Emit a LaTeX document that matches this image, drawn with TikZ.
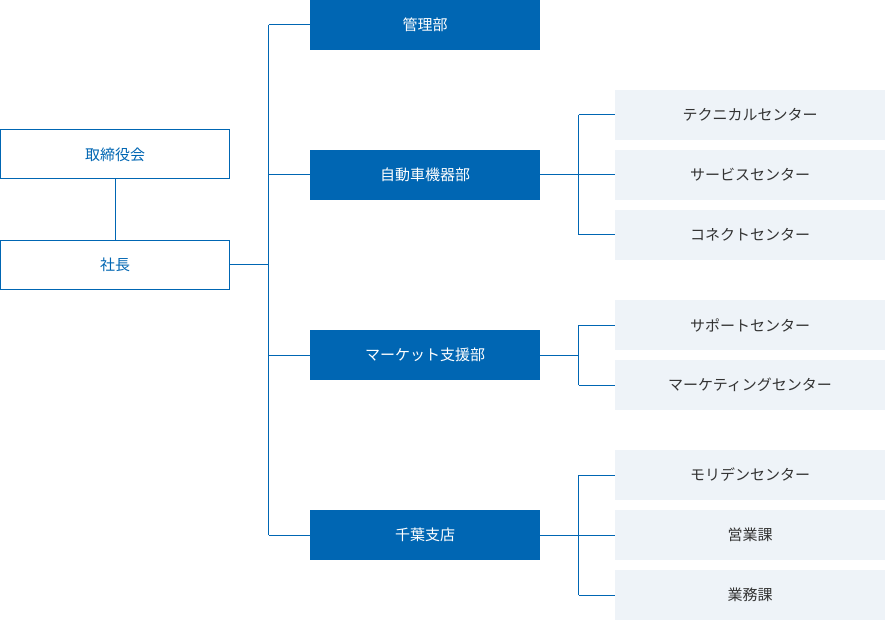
\documentclass[tikz,border=0pt]{standalone}
\usepackage{fontspec}
\setmainfont{Noto Sans CJK JP}
\definecolor{cblue}{HTML}{0066B3}
\definecolor{clight}{HTML}{EEF3F8}
\definecolor{ctext}{HTML}{333333}
\begin{document}
\begin{tikzpicture}[x=1pt,y=-1pt,
  topbox/.style={draw=cblue,line width=1pt,fill=white,text=cblue,minimum width=229pt,minimum height=49pt,inner sep=0pt,font=\fontsize{15}{17}\selectfont},
  deptbox/.style={fill=cblue,text=white,minimum width=230pt,minimum height=50pt,inner sep=0pt,font=\fontsize{15}{17}\selectfont},
  subbox/.style={fill=clight,text=ctext,minimum width=270pt,minimum height=50pt,inner sep=0pt,font=\fontsize{15}{17}\selectfont},
  conn/.style={draw=cblue,line width=1pt}]
\useasboundingbox (0,0) rectangle (885,620);
\node[topbox] (board) at (115,154.5) {取締役会};
\node[topbox] (pres) at (115,264.5) {社長};
\node[deptbox] (kanri) at (425,25) {管理部};
\node[deptbox] (jido) at (425,175) {自動車機器部};
\node[deptbox] (mkt) at (425,355) {マーケット支援部};
\node[deptbox] (chiba) at (425,535) {千葉支店};
\node[subbox] (tech) at (750,115) {テクニカルセンター};
\node[subbox] (serv) at (750,175) {サービスセンター};
\node[subbox] (conn) at (750,235) {コネクトセンター};
\node[subbox] (supp) at (750,325) {サポートセンター};
\node[subbox] (mktc) at (750,385) {マーケティングセンター};
\node[subbox] (mori) at (750,475) {モリデンセンター};
\node[subbox] (eigyo) at (750,535) {営業課};
\node[subbox] (gyomu) at (750,595) {業務課};
\coordinate (trunk) at (268.5,0);
\coordinate (br) at (578.5,0);
\draw[conn] (board) -- (pres);
\draw[conn] (pres.east) -- (pres.east -| trunk);
\draw[conn] (kanri.west -| trunk) -- (chiba.west -| trunk);
\foreach \d in {kanri,jido,mkt,chiba} \draw[conn] (\d.west -| trunk) -- (\d.west);
\draw[conn] (jido.east) -- (serv.west);
\draw[conn] (tech.west -| br) -- (conn.west -| br);
\foreach \s in {tech,conn} \draw[conn] (\s.west -| br) -- (\s.west);
\draw[conn] (mkt.east) -- (mkt.east -| br);
\draw[conn] (supp.west -| br) -- (mktc.west -| br);
\foreach \s in {supp,mktc} \draw[conn] (\s.west -| br) -- (\s.west);
\draw[conn] (chiba.east) -- (eigyo.west);
\draw[conn] (mori.west -| br) -- (gyomu.west -| br);
\foreach \s in {mori,gyomu} \draw[conn] (\s.west -| br) -- (\s.west);
\end{tikzpicture}
\end{document}
